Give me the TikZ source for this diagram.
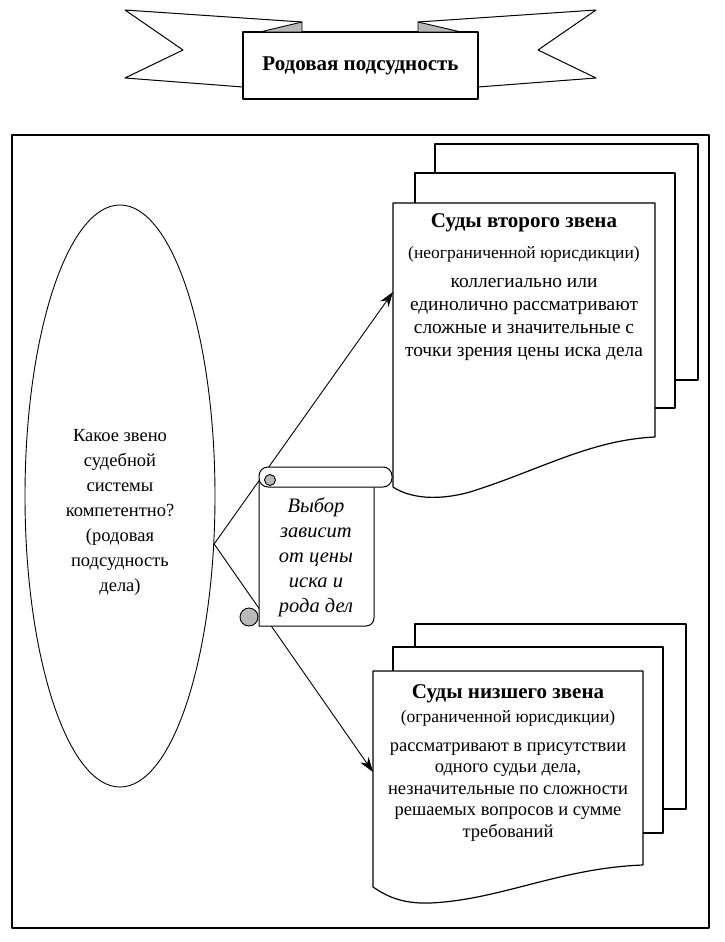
\documentclass[tikz,border=0pt]{standalone}
\usepackage{fontspec}
\setmainfont{Liberation Serif}
\usetikzlibrary{shapes.geometric, arrows.meta, positioning}

\tikzset{
  page/.style={draw, line width=1.2pt, fill=white},
  fold/.style={draw, line width=0.9pt, fill=gray!55},
  doctext/.style={align=center, inner sep=0pt, anchor=north, font=\fontsize{19.4}{23}\selectfont},
  link/.style={line width=0.9pt, -{Stealth[length=15pt, width=10pt]}},
}
\newcommand{\doctitle}[1]{{\fontsize{21}{23}\bfseries\selectfont #1}}
\newcommand{\docsub}[1]{{\fontsize{17.5}{23}\selectfont #1}}

\begin{document}
\begin{tikzpicture}[x=1pt, y=-1pt, line join=round]
\useasboundingbox (0,0) rectangle (725,942);

\draw[line width=1pt] (302,22) -- (125,10) -- (183,50) -- (125,78) -- (243,87);
\draw[line width=1pt] (418,22) -- (596,10) -- (538,50) -- (596,78) -- (478,87);
\node[draw, line width=1.2pt, fill=white, minimum width=235pt, minimum height=67pt,
      font=\fontsize{21}{25}\bfseries\selectfont] (title) at (360.5,65.5) {Родовая подсудность};
\draw[fold] (260,32) -- (302,22) -- (302,32) -- cycle;
\draw[fold] (461,32) -- (418,22) -- (418,32) -- cycle;

\draw[line width=1.2pt] (12,135) rectangle (709,928);

\node[draw, ellipse, line width=0.9pt, minimum width=190pt, minimum height=582pt] (question) at (120,496) {};
\node[align=center, anchor=north, inner sep=0pt, font=\fontsize{18.5}{25}\selectfont] (qtext) at (120,429)
  {Какое звено\\судебной\\системы\\компетентно?\\(родовая\\подсудность\\дела)};
\coordinate (fork) at (question.-27);

\draw[page] (435,144) rectangle (698,380);
\draw[page] (415,173) rectangle (675,408);
\draw[page] (393,203) -- (655,203) -- (655,437) .. controls (590,440) and (540,470) .. (470,492)
  .. controls (430,503) and (405,495) .. (393,487) -- cycle;
\node[doctext] (hightext) at (524,213)
  {\doctitle{Суды второго звена}\\[8pt]
   \docsub{(неограниченной юрисдикции)}\\[6pt]
   коллегиально или\\единолично рассматривают\\сложные и значительные с\\точки зрения цены иска дела};
\coordinate (highin) at (393,292);

\draw[page] (415,624) rectangle (686,809);
\draw[page] (393,647) rectangle (663,833);
\draw[page] (373,671) -- (643,671) -- (643,865) .. controls (560,868) and (500,900) .. (430,903)
  .. controls (400,904) and (385,895) .. (373,887) -- cycle;
\node[doctext, font=\fontsize{18.5}{21.5}\selectfont] (lowtext) at (508,684)
  {\doctitle{Суды низшего звена}\\[3pt]
   \docsub{(ограниченной юрисдикции)}\\[7pt]
   рассматривают в присутствии\\одного судьи дела,\\незначительные по сложности\\решаемых вопросов и сумме\\требований};
\coordinate (lowin) at (373,772);

\draw[link] (fork) -- (highin);
\draw[link] (fork) -- (lowin);

\draw[page, line width=1pt] (259,482) -- (259,626) [rounded corners=8pt] -- (374,626) -- (374,482);
\draw[page, line width=1pt, rounded corners=9pt] (259,467) rectangle (392,487);
\draw[fold] (270,480) circle (5.5pt);
\draw[fold] (249,617) circle (9pt);
\node[align=center, anchor=north, inner sep=0pt, font=\fontsize{20.5}{25}\itshape\selectfont] (choice) at (316,498)
  {Выбор\\зависит\\от цены\\иска и\\рода дел};
\end{tikzpicture}
\end{document}
